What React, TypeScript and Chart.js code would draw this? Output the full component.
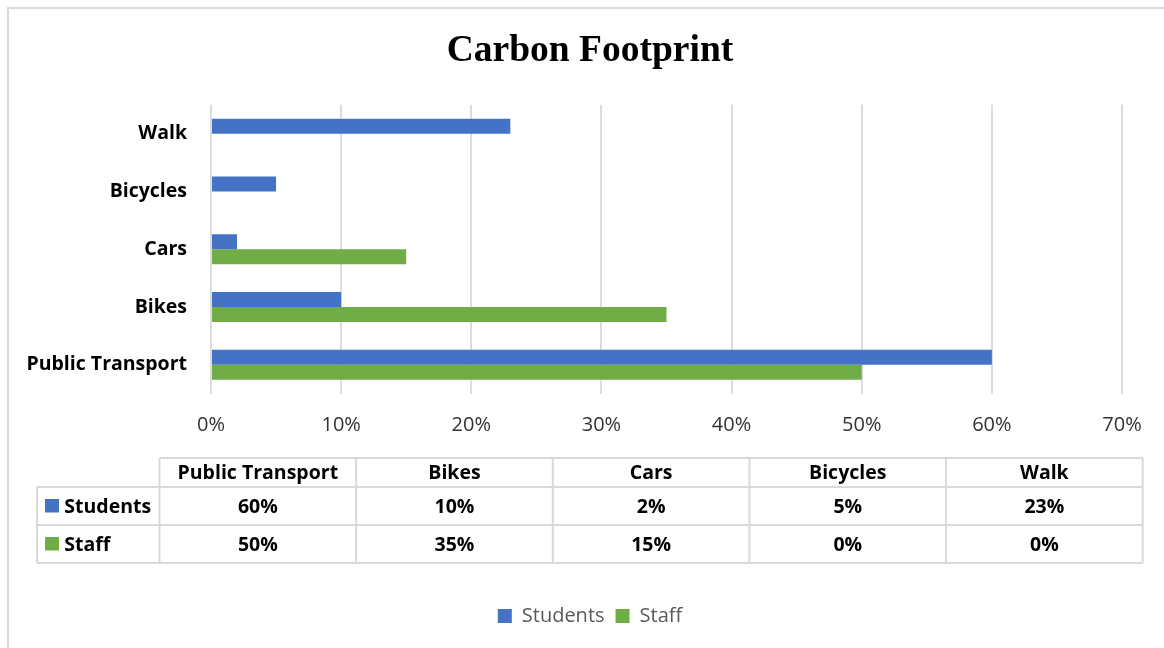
import React, { useEffect, useRef } from "react";
import { Chart, registerables } from "chart.js";

Chart.register(...registerables);

const chartTitle = "Carbon Footprint";
const categories = ["Public Transport", "Bikes", "Cars", "Bicycles", "Walk"];
const seriesNames = ["Students", "Staff"];
const studentsValues = [60, 10, 2, 5, 23];
const staffValues = [50, 35, 15, 0, 0];
const seriesColors = ["#4472C4", "#70AD47"];
const xTickMax = 70;
const xTickStep = 10;

const BOX_W = 1157;
const W = 1180;
const H = 641;

const FONT = "'Open Sans', 'Noto Sans', sans-serif";

const tablePlugin = {
  id: "dataTable",
  beforeDraw(chart: any) {
    const ctx = chart.ctx;
    ctx.save();
    ctx.fillStyle = "#ffffff";
    ctx.fillRect(0, 0, chart.width, chart.height);
    ctx.fillStyle = "#d9d9d9";
    ctx.fillRect(0, 0, chart.width, 2);
    ctx.fillRect(0, 0, 2, chart.height);
    ctx.restore();
  },
  afterDraw(chart: any) {
    const ctx = chart.ctx;
    const labelLeft = 30;
    const colStart = 152.5;
    const colEnd = 1135.7;
    const nCols = categories.length;
    const colW = (colEnd - colStart) / nCols;
    const headerTop = 451;
    const rowTop = 480;
    const rowH = 38;
    const rows = [studentsValues, staffValues];
    const tableBottom = rowTop + rowH * rows.length;
    const fs = 19.5;

    ctx.save();
    ctx.strokeStyle = "#d9d9d9";
    ctx.lineWidth = 2;
    ctx.beginPath();
    ctx.moveTo(colStart, headerTop);
    ctx.lineTo(colEnd, headerTop);
    for (let r = 0; r <= rows.length; r++) {
      const y = rowTop + r * rowH;
      ctx.moveTo(labelLeft, y);
      ctx.lineTo(colEnd, y);
    }
    ctx.moveTo(labelLeft, rowTop);
    ctx.lineTo(labelLeft, tableBottom);
    for (let c = 0; c <= nCols; c++) {
      const x = colStart + c * colW;
      ctx.moveTo(x, headerTop);
      ctx.lineTo(x, tableBottom);
    }
    ctx.stroke();

    ctx.fillStyle = "#000000";
    ctx.font = `bold ${fs}px ${FONT}`;
    ctx.textBaseline = "alphabetic";
    ctx.textAlign = "center";
    const capOff = fs * 0.357;
    const hy = (headerTop + rowTop) / 2 + capOff;
    categories.forEach((cat, i) => {
      ctx.fillText(cat, colStart + colW * (i + 0.5), hy);
    });
    rows.forEach((vals, r) => {
      const cy = rowTop + rowH * (r + 0.5);
      vals.forEach((v, i) => {
        ctx.fillStyle = "#000000";
        ctx.textAlign = "center";
        ctx.fillText(`${v}%`, colStart + colW * (i + 0.5), cy + capOff);
      });
      ctx.fillStyle = seriesColors[r];
      ctx.fillRect(38, cy - 7, 14, 13.5);
      ctx.fillStyle = "#000000";
      ctx.textAlign = "left";
      ctx.fillText(seriesNames[r], 57.3, cy + capOff);
    });
    ctx.restore();
  },
};

export default function App() {
  const ref = useRef<HTMLCanvasElement | null>(null);

  useEffect(() => {
    if (!ref.current) return;
    const chart = new Chart(ref.current, {
      type: "bar",
      data: {
        labels: categories,
        datasets: [
          {
            label: seriesNames[0],
            data: studentsValues,
            backgroundColor: seriesColors[0],
            categoryPercentage: 0.52,
            barPercentage: 1,
          },
          {
            label: seriesNames[1],
            data: staffValues,
            backgroundColor: seriesColors[1],
            categoryPercentage: 0.52,
            barPercentage: 1,
          },
        ],
      },
      options: {
        indexAxis: "y",
        responsive: false,
        animation: false,
        layout: { padding: { left: 0, right: 14, top: 0, bottom: 12 } },
        scales: {
          x: {
            min: 0,
            max: xTickMax,
            ticks: {
              stepSize: xTickStep,
              callback: (v: any) => `${v}%`,
              color: "#333333",
              font: { family: FONT, size: 20 },
              padding: 20,
            },
            grid: { color: "#dcdcdc", lineWidth: 2, drawTicks: false },
            border: { display: false },
            afterFit: (s: any) => {
              s.height = 201.4;
            },
          },
          y: {
            reverse: true,
            ticks: {
              color: "#000000",
              font: { family: FONT, size: 19.5, weight: "bold" },
              padding: 24,
            },
            grid: { display: false, drawTicks: false },
            border: { display: false },
            afterFit: (s: any) => {
              s.width = 204;
            },
          },
          yRight: {
            axis: "y",
            type: "linear",
            position: "right",
            display: true,
            ticks: { display: false },
            grid: { display: false, drawTicks: false },
            border: { display: false },
            afterFit: (s: any) => {
              s.width = 51;
            },
          },
        },
        plugins: {
          title: {
            display: true,
            text: chartTitle,
            color: "#000000",
            font: { family: "'Liberation Serif', 'Times New Roman', serif", size: 37.5, weight: "bold" },
            padding: { top: 22, bottom: 30.8 },
          },
          legend: {
            display: true,
            position: "bottom",
            labels: {
              color: "#595959",
              font: { family: FONT, size: 20 },
              boxWidth: 14,
              boxHeight: 14,
              padding: 11,
            },
          },
          tooltip: { enabled: false },
        },
      },
      plugins: [tablePlugin],
    });
    return () => chart.destroy();
  }, []);

  return (
    <div
      style={{
        position: "absolute",
        left: 7,
        top: 7,
        width: BOX_W,
        height: H,
        overflow: "hidden",
        background: "#ffffff",
      }}
    >
      <canvas ref={ref} width={W} height={H} style={{ width: W, height: H, display: "block" }} />
    </div>
  );
}
